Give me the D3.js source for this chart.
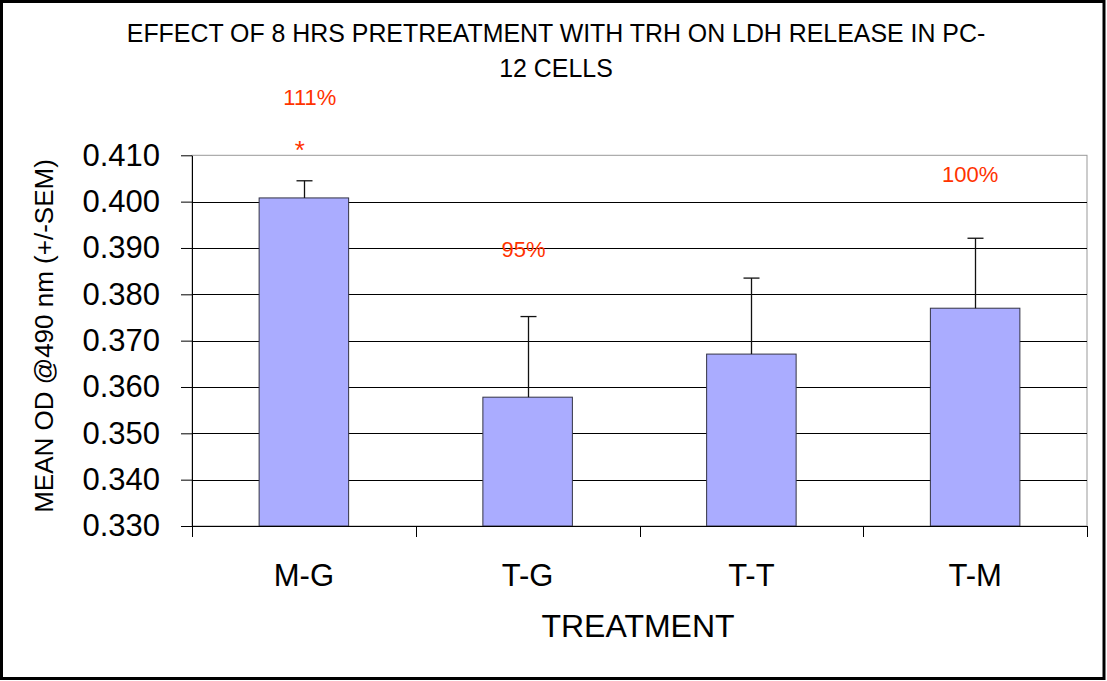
<!DOCTYPE html>
<html>
<head>
<meta charset="utf-8">
<script src="https://cdn.jsdelivr.net/npm/d3@7"></script>
<style>
  html, body { margin: 0; padding: 0; background: #fff; }
  svg { display: block; font-family: "Liberation Sans", Arial, sans-serif; }
</style>
</head>
<body>
<svg id="chart" width="1107" height="681"></svg>
<script>
const categories = ["M-G", "T-G", "T-T", "T-M"];
const means = [0.4008, 0.3578, 0.3671, 0.3770];
const sems = [0.0037, 0.0174, 0.0164, 0.0151];
const yTicks = [0.330, 0.340, 0.350, 0.360, 0.370, 0.380, 0.390, 0.400, 0.410];
const annotations = [
  { cat: "M-G", text: "111%", value: 0.4208 },
  { cat: "M-G", text: "*", value: 0.4092 },
  { cat: "T-G", text: "95%", value: 0.3880 },
  { cat: "T-M", text: "100%", value: 0.4042 }
];
const titleLines = ["EFFECT OF 8 HRS PRETREATMENT WITH TRH ON LDH RELEASE IN PC-", "12 CELLS"];

const svg = d3.select("#chart");
const L = 192, R = 1087, T = 155.3, B = 526;

const x = d3.scaleBand().domain(categories).range([L, R]).paddingInner(0.6).paddingOuter(0.3);
const y = d3.scaleLinear().domain([0.33, 0.41]).range([B, T]);

// outer frame
svg.append("rect").attr("x", 1.5).attr("y", 1.5).attr("width", 1102.5).attr("height", 677)
  .attr("fill", "#fff").attr("stroke", "#000").attr("stroke-width", 3);

// title
svg.append("g").selectAll("text").data(titleLines).join("text")
  .attr("x", 556).attr("y", (d, i) => 42 + i * 35)
  .attr("text-anchor", "middle").attr("font-size", 24.9).attr("fill", "#000")
  .text(d => d);

// plot border (top/right)
svg.append("rect").attr("x", L).attr("y", T).attr("width", R - L).attr("height", B - T)
  .attr("fill", "none").attr("stroke", "#999").attr("stroke-width", 1);

// gridlines
svg.append("g").selectAll("line").data(yTicks.filter(v => v > 0.3305 && v < 0.4095)).join("line")
  .attr("x1", L).attr("x2", R)
  .attr("y1", d => Math.round(y(d)) + 0.5).attr("y2", d => Math.round(y(d)) + 0.5)
  .attr("stroke", "#000").attr("stroke-width", 1);

// bars
svg.append("g").selectAll("rect").data(categories).join("rect")
  .attr("x", d => x(d)).attr("width", x.bandwidth())
  .attr("y", (d, i) => y(means[i])).attr("height", (d, i) => B - y(means[i]))
  .attr("fill", "#aaacff").attr("stroke", "#333344").attr("stroke-width", 1);

// error bars (upper)
const eb = svg.append("g");
categories.forEach((c, i) => {
  const cx = Math.round(x(c) + x.bandwidth() / 2) + 0.5;
  eb.append("line").attr("x1", cx).attr("x2", cx)
    .attr("y1", y(means[i])).attr("y2", y(means[i] + sems[i]))
    .attr("stroke", "#111").attr("stroke-width", 1.3);
  eb.append("line").attr("x1", cx - 8).attr("x2", cx + 8)
    .attr("y1", y(means[i] + sems[i])).attr("y2", y(means[i] + sems[i]))
    .attr("stroke", "#111").attr("stroke-width", 1.3);
});

// y axis
const yAxis = svg.append("g").attr("transform", `translate(${L},0)`)
  .call(d3.axisLeft(y).tickValues(yTicks).tickFormat(d3.format(".3f")).tickSizeOuter(0).tickSizeInner(11).tickPadding(21));
yAxis.select(".domain").attr("stroke", "#000");
yAxis.selectAll(".tick line").attr("stroke", "#000");
yAxis.selectAll(".tick text").attr("font-size", 31).attr("fill", "#000")
  .attr("font-family", "Liberation Sans, Arial, sans-serif");

// x axis
const xAxis = svg.append("g").attr("transform", `translate(0,${B})`)
  .call(d3.axisBottom(x).tickSize(0).tickPadding(0));
xAxis.select(".domain").attr("stroke", "#000");
xAxis.selectAll(".tick text").attr("font-size", 31).attr("fill", "#000")
  .attr("dy", null).attr("y", 60)
  .attr("font-family", "Liberation Sans, Arial, sans-serif");
// category separator ticks
const sepX = categories.map(c => x(c) - x.step() * x.paddingOuter()).concat([R]);
xAxis.append("g").selectAll("line").data(sepX).join("line")
  .attr("x1", d => Math.round(d) + 0.5).attr("x2", d => Math.round(d) + 0.5)
  .attr("y1", 0).attr("y2", 11).attr("stroke", "#000");

// axis titles
svg.append("text").attr("x", 638).attr("y", 637).attr("text-anchor", "middle")
  .attr("font-size", 32).attr("fill", "#000").text("TREATMENT");
svg.append("text").attr("transform", "translate(53,336) rotate(-90)")
  .attr("text-anchor", "middle").attr("font-size", 26).attr("fill", "#000")
  .text("MEAN OD @490 nm (+/-SEM)");

// annotations (small horizontal nudges relative to the bar centre)
const nudge = { "111%": 6, "*": -4, "95%": -4, "100%": -5 };
svg.append("g").selectAll("text").data(annotations).join("text")
  .attr("x", d => x(d.cat) + x.bandwidth() / 2 + nudge[d.text])
  .attr("y", d => y(d.value))
  .attr("text-anchor", "middle")
  .attr("font-size", d => d.text === "*" ? 26 : 22)
  .attr("fill", "#ff3300")
  .text(d => d.text);
</script>
</body>
</html>
